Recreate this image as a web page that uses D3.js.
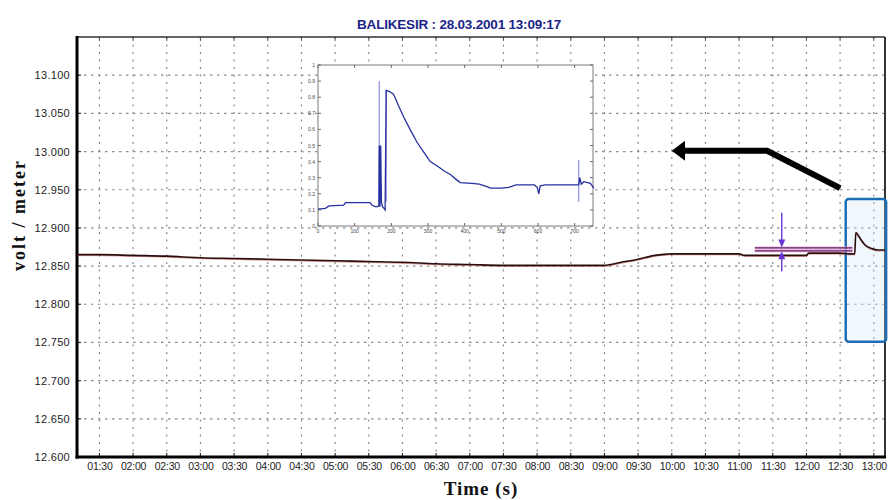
<!DOCTYPE html>
<html><head><meta charset="utf-8">
<script src="https://cdn.jsdelivr.net/npm/d3@7/dist/d3.min.js"></script>
<style>html,body{margin:0;padding:0;background:#fff}svg{display:block}</style>
</head><body><svg id="c" width="888" height="500"></svg>
<script>
// ---------- data ----------
const title = "BALIKESIR  : 28.03.2001 13:09:17";
const yLabel = "volt / meter";
const xLabel = "Time (s)";
const xDomain = ["01:10", "13:10"];
const yDomain = [12.6, 13.15];
const xTickLabels = ["01:30","02:00","02:30","03:00","03:30","04:00","04:30","05:00","05:30","06:00","06:30","07:00","07:30","08:00","08:30","09:00","09:30","10:00","10:30","11:00","11:30","12:00","12:30","13:00"];
const yTickValues = [12.600,12.650,12.700,12.750,12.800,12.850,12.900,12.950,13.000,13.050,13.100];

const mainTimes = ["01:10","01:30","02:00","02:30","02:45","03:00","03:30","04:00","04:30","05:00","05:30","06:00","06:30","07:00","07:30","08:00","08:30","09:00","09:15","09:30","09:45","10:00","10:30","11:00","11:05","11:30","12:00","12:02","12:30","12:38","12:43","12:44","12:47","12:52","12:58","13:04","13:10"];
const mainValues = [12.865,12.865,12.864,12.863,12.862,12.861,12.860,12.859,12.858,12.857,12.856,12.855,12.853,12.852,12.851,12.851,12.851,12.851,12.855,12.859,12.864,12.866,12.866,12.866,12.864,12.864,12.864,12.867,12.867,12.866,12.866,12.894,12.888,12.878,12.873,12.871,12.871];

// range marker lines (start, end, value)
const rangeStart = "11:14", rangeEnd = "12:41";
const rangeValues = [12.8738, 12.8700];
// purple arrows at time, from -> to values
const markerTime = "11:38";
const markerFrom = [12.920, 12.843];
const markerTo = [12.8745, 12.8693];
// black annotation arrow path (time, value), last point is the tip
const bigArrowTimes = ["12:30","11:25","10:10","10:00"];
const bigArrowValues = [12.952, 13.001, 13.001, 13.001];
// highlight box
const boxTimes = ["12:35","13:11"];
const boxValues = [12.938, 12.751];

// inset
const insetXDomain = [0, 750];
const insetYDomain = [0, 1];
const insetXTicks = [0,100,200,300,400,500,600,700];
const insetYTicks = [0,0.1,0.2,0.3,0.4,0.5,0.6,0.7,0.8,0.9,1];
const insetX = [0,20,30,70,75,142,147,156,163,166,167,169,171,173,176,180,183,186,189,195,205,210,219,233,251,270,288,306,320,333,345,361,379,388,420,440,461,470,500,520,540,590,598,602,606,620,700,711,714,718,725,735,743,752];
const insetY = [0.105,0.11,0.125,0.13,0.145,0.145,0.13,0.12,0.12,0.13,0.5,0.12,0.5,0.15,0.12,0.11,0.10,0.84,0.84,0.835,0.82,0.80,0.75,0.68,0.60,0.52,0.46,0.40,0.38,0.36,0.34,0.32,0.285,0.27,0.265,0.26,0.245,0.235,0.235,0.24,0.255,0.255,0.24,0.2,0.25,0.255,0.255,0.255,0.3,0.26,0.275,0.27,0.265,0.235];
const spikeX = [167, 186, 711];
const spikeLo = [0.12, 0.15, 0.15];
const spikeHi = [0.90, 0.85, 0.41];

// ---------- drawing ----------
const svg = d3.select("#c");
const L = 77, R = 885, T = 37, B = 457;
const toMin = s => { const [h,m] = s.split(":").map(Number); return h*60+m; };
const x = d3.scaleLinear().domain(xDomain.map(toMin)).range([L, R]);
const y = d3.scaleLinear().domain(yDomain).range([B, T]);

// grid
const grid = svg.append("g").attr("stroke","#8a8a8a").attr("stroke-width",1.2);
grid.selectAll("line.h").data(yTickValues.slice(1)).join("line")
  .attr("x1",L).attr("x2",R).attr("y1",d=>y(d)).attr("y2",d=>y(d))
  .attr("stroke-dasharray","2.5,4.5");
grid.selectAll("line.v").data(xTickLabels).join("line")
  .attr("x1",d=>x(toMin(d))).attr("x2",d=>x(toMin(d))).attr("y1",T).attr("y2",B)
  .attr("stroke-dasharray","2,5.5");

// axes
const xAxis = d3.axisBottom(x).tickValues(xTickLabels.map(toMin)).tickSize(0)
  .tickFormat((d,i)=>xTickLabels[i]);
const gx = svg.append("g").attr("transform",`translate(0,${B})`).call(xAxis);
gx.select(".domain").remove();
gx.selectAll("text").attr("dy","0").attr("y",13).attr("font-family","Arial, Liberation Sans, sans-serif")
  .attr("font-size",10.5).attr("letter-spacing","-0.2").attr("fill","#222");

const yAxis = d3.axisLeft(y).tickValues(yTickValues).tickSize(0).tickFormat(d3.format(".3f"));
const gy = svg.append("g").attr("transform",`translate(${L-7},0)`).call(yAxis);
gy.select(".domain").remove();
gy.selectAll("text").attr("x",0).attr("font-family","Arial, Liberation Sans, sans-serif")
  .attr("font-size",11).attr("letter-spacing","0.3").attr("fill","#222");

// small ticks on top and bottom edges
svg.append("g").selectAll("line").data(xTickLabels).join("line")
  .attr("x1",d=>x(toMin(d))).attr("x2",d=>x(toMin(d))).attr("y1",T).attr("y2",T+4)
  .attr("stroke","#555").attr("stroke-width",1);
svg.append("g").selectAll("line").data(xTickLabels).join("line")
  .attr("x1",d=>x(toMin(d))).attr("x2",d=>x(toMin(d))).attr("y1",B-4).attr("y2",B)
  .attr("stroke","#333").attr("stroke-width",1.2);
svg.append("g").selectAll("line").data(yTickValues).join("line")
  .attr("x1",L).attr("x2",L+4).attr("y1",d=>y(d)).attr("y2",d=>y(d))
  .attr("stroke","#333").attr("stroke-width",1.2);

// frame
svg.append("line").attr("x1",L).attr("x2",R).attr("y1",T).attr("y2",T).attr("stroke","#333").attr("stroke-width",1.6);
svg.append("line").attr("x1",R).attr("x2",R).attr("y1",T).attr("y2",B).attr("stroke","#333").attr("stroke-width",2);
svg.append("line").attr("x1",L).attr("x2",L).attr("y1",T-1).attr("y2",B+1.5).attr("stroke","#000").attr("stroke-width",3);
svg.append("line").attr("x1",L-1.5).attr("x2",R+1).attr("y1",B).attr("y2",B).attr("stroke","#000").attr("stroke-width",3);

// highlight box
svg.append("rect")
  .attr("x",x(toMin(boxTimes[0]))).attr("y",y(boxValues[0]))
  .attr("width",x(toMin(boxTimes[1]))-x(toMin(boxTimes[0])))
  .attr("height",y(boxValues[1])-y(boxValues[0]))
  .attr("rx",3).attr("fill","rgba(205,232,248,0.3)").attr("stroke","#1f6db3").attr("stroke-width",2.5);

// range marker lines
const rs = x(toMin(rangeStart)), re = x(toMin(rangeEnd));
svg.append("g").selectAll("line").data(rangeValues).join("line")
  .attr("x1",rs).attr("x2",re).attr("y1",d=>y(d)).attr("y2",d=>y(d))
  .attr("stroke","#f2a6e6").attr("stroke-width",3.5).attr("opacity",0.6);
svg.append("g").selectAll("line").data(rangeValues).join("line")
  .attr("x1",rs).attr("x2",re).attr("y1",d=>y(d)).attr("y2",d=>y(d))
  .attr("stroke","#5a1f5a").attr("stroke-width",1.2);

// main series
const line = d3.line().curve(d3.curveMonotoneX).x((d,i)=>x(toMin(mainTimes[i]))).y(d=>y(d));
svg.append("path").datum(mainValues).attr("d",line)
  .attr("fill","none").attr("stroke","#c04040").attr("stroke-width",0.8).attr("opacity",0.7)
  .attr("transform","translate(0,1)");
svg.append("path").datum(mainValues).attr("d",line)
  .attr("fill","none").attr("stroke","#2a0d0d").attr("stroke-width",1.6);

// purple arrows
const mx = x(toMin(markerTime));
markerFrom.forEach((f,i)=>{
  const y0 = y(f), y1 = y(markerTo[i]);
  const dir = Math.sign(y1-y0);
  svg.append("line").attr("x1",mx).attr("x2",mx).attr("y1",y0).attr("y2",y1-dir*6)
    .attr("stroke","#6a35d8").attr("stroke-width",1.4);
  svg.append("path").attr("d",`M${mx-3.5},${y1-dir*8}L${mx+3.5},${y1-dir*8}L${mx},${y1}Z`)
    .attr("fill","#6a35d8");
});

// big black arrow
const ap = bigArrowTimes.map((t,i)=>[x(toMin(t)), y(bigArrowValues[i])]);
svg.append("path").attr("d",d3.line()(ap.slice(0,3)))
  .attr("fill","none").attr("stroke","#000").attr("stroke-width",6).attr("stroke-linejoin","miter");
const tip = ap[3], base = ap[2];
svg.append("path").attr("d",`M${tip[0]},${tip[1]}L${base[0]+2},${base[1]-10}L${base[0]+2},${base[1]+10}Z`).attr("fill","#000");

// inset
const IL = 318, IR = 593, IT = 65, IB = 226;
const ix = d3.scaleLinear().domain(insetXDomain).range([IL, IR]);
const iy = d3.scaleLinear().domain(insetYDomain).range([IB, IT]);
const ins = svg.append("g");
ins.append("rect").attr("x",IL).attr("y",IT).attr("width",IR-IL).attr("height",IB-IT)
  .attr("fill","#fff").attr("stroke","#7a7a7a").attr("stroke-width",1);
ins.selectAll("line.xt").data(insetXTicks).join("line")
  .attr("x1",d=>ix(d)).attr("x2",d=>ix(d)).attr("y1",IB).attr("y2",IB-3).attr("stroke","#666");
ins.selectAll("line.xt2").data(insetXTicks).join("line")
  .attr("x1",d=>ix(d)).attr("x2",d=>ix(d)).attr("y1",IT).attr("y2",IT+3).attr("stroke","#666");
ins.selectAll("line.yt").data(insetYTicks).join("line")
  .attr("x1",IL).attr("x2",IL+3).attr("y1",d=>iy(d)).attr("y2",d=>iy(d)).attr("stroke","#666");
ins.selectAll("line.yt2").data(insetYTicks).join("line")
  .attr("x1",IR).attr("x2",IR-3).attr("y1",d=>iy(d)).attr("y2",d=>iy(d)).attr("stroke","#666");
ins.selectAll("text.xl").data(insetXTicks).join("text")
  .attr("x",d=>ix(d)).attr("y",IB+7).attr("text-anchor","middle")
  .attr("font-family","Arial, sans-serif").attr("font-size",5).attr("fill","#444").text(d=>d);
ins.selectAll("text.yl").data(insetYTicks).join("text")
  .attr("x",IL-3).attr("y",d=>iy(d)+2).attr("text-anchor","end")
  .attr("font-family","Arial, sans-serif").attr("font-size",5).attr("fill","#444").text(d=>d);
ins.selectAll("line.sp").data(spikeX).join("line")
  .attr("x1",d=>ix(d)).attr("x2",d=>ix(d)).attr("y1",(d,i)=>iy(spikeLo[i])).attr("y2",(d,i)=>iy(spikeHi[i]))
  .attr("stroke","#8c8fe0").attr("stroke-width",1.2);
ins.append("path").datum(insetY)
  .attr("d",d3.line().x((d,i)=>ix(insetX[i])).y(d=>iy(d)))
  .attr("fill","none").attr("stroke","#26309e").attr("stroke-width",1.3);

// titles
svg.append("text").attr("x",459).attr("y",29).attr("text-anchor","middle")
  .attr("font-family","Arial, Liberation Sans, sans-serif").attr("font-weight","bold")
  .attr("font-size",13.5).attr("letter-spacing","-0.2").attr("fill","#1b2488").text(title);
svg.append("text").attr("x",481).attr("y",495).attr("text-anchor","middle")
  .attr("font-family","Liberation Serif, Times New Roman, serif").attr("font-weight","bold")
  .attr("font-size",19).attr("letter-spacing","1").attr("fill","#111").text(xLabel);
svg.append("text").attr("transform","translate(25,215) rotate(-90)").attr("text-anchor","middle")
  .attr("font-family","Liberation Serif, Times New Roman, serif").attr("font-weight","bold")
  .attr("font-size",18).attr("letter-spacing","2").attr("fill","#111").text(yLabel);
</script></body></html>
